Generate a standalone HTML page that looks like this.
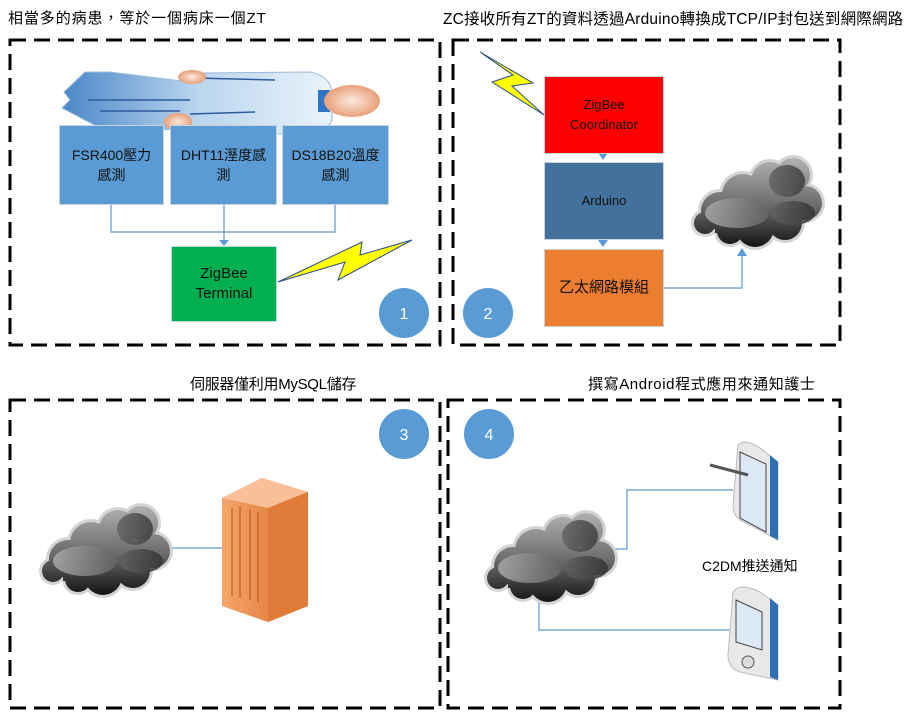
<!DOCTYPE html>
<html><head><meta charset="utf-8"><style>
body{margin:0;width:911px;height:716px;background:#fff;position:relative;overflow:hidden;font-family:"Liberation Sans","Noto Sans CJK TC",sans-serif}
.t{position:absolute;font-size:15px;color:#000;white-space:nowrap}
.b{position:absolute;display:flex;align-items:center;justify-content:center;text-align:center;font-size:14px;line-height:20px;color:#111;box-sizing:border-box;border:1px solid #c9d3de}
</style></head><body>
<svg width="911" height="716" style="position:absolute;left:0;top:0">
<defs>
<linearGradient id="cg" gradientUnits="userSpaceOnUse" x1="0" y1="-50" x2="0" y2="45"><stop offset="0" stop-color="#b8b8b8"/><stop offset="0.55" stop-color="#6c6c6c"/><stop offset="1" stop-color="#111"/></linearGradient>
<linearGradient id="cg2" gradientUnits="userSpaceOnUse" x1="-50" y1="0" x2="60" y2="0"><stop offset="0" stop-color="#aaa"/><stop offset="1" stop-color="#333"/></linearGradient>
<linearGradient id="bed" x1="0" x2="1"><stop offset="0" stop-color="#4a86c8"/><stop offset="0.5" stop-color="#b9d5ee"/><stop offset="1" stop-color="#eaf3fa"/></linearGradient>
<linearGradient id="srv" x1="0" x2="1"><stop offset="0" stop-color="#f5a66a"/><stop offset="1" stop-color="#d9692a"/></linearGradient>
<radialGradient id="skin"><stop offset="0" stop-color="#fbe9dc"/><stop offset="1" stop-color="#e7a07a"/></radialGradient>
<g id="cloud">
<g fill="#d4d4d4"><circle cx="-35" cy="8" r="22"/><circle cx="-12" cy="-8" r="24"/><circle cx="15" cy="-22" r="22"/><circle cx="38" cy="-28" r="20"/><circle cx="50" cy="0" r="20"/><circle cx="30" cy="20" r="20"/><circle cx="0" cy="25" r="22"/><circle cx="-50" cy="20" r="14"/><circle cx="-25" cy="28" r="16"/></g>
<g fill="url(#cg)"><circle cx="-35" cy="8" r="19"/><circle cx="-12" cy="-8" r="21"/><circle cx="15" cy="-22" r="19"/><circle cx="38" cy="-28" r="17"/><circle cx="50" cy="0" r="17"/><circle cx="30" cy="20" r="17"/><circle cx="0" cy="25" r="19"/><circle cx="-50" cy="20" r="11"/><circle cx="-25" cy="28" r="13"/><rect x="-40" y="-10" width="80" height="40"/></g>
<g fill="url(#cg2)" opacity=".85"><ellipse cx="-18" cy="10" rx="32" ry="15"/><ellipse cx="38" cy="10" rx="22" ry="12"/><ellipse cx="32" cy="-22" rx="18" ry="16"/></g>
</g>
</defs>
<g fill="none" stroke="#000" stroke-width="3" stroke-dasharray="16,8">
<rect x="10" y="40" width="430" height="305"/>
<rect x="453" y="40" width="387" height="305"/>
<rect x="10" y="400" width="430" height="308"/>
<rect x="448" y="400" width="392" height="308"/>
</g>
<!-- patient -->
<path d="M64 92 L85 72 L110 72 L190 82 L200 73 L310 72 Q330 76 332 92 L332 120 Q325 136 300 134 L200 134 L185 130 L100 128 L62 108 L70 100 Z" fill="url(#bed)" stroke="#9bbbd8"/>
<path d="M88 100 L190 100 M100 111 L180 111 M190 114 L255 112 M195 78 L275 80" stroke="#2d5b9c" stroke-width="1.5" fill="none"/>
<ellipse cx="192" cy="77" rx="14" ry="7" fill="url(#skin)"/>
<ellipse cx="178" cy="122" rx="14" ry="9" fill="url(#skin)"/>
<rect x="318" y="90" width="12" height="22" fill="#2e75c6"/>
<ellipse cx="352" cy="101" rx="28" ry="16" fill="url(#skin)"/>
<!-- connectors -->
<g stroke="#5b9bd5" stroke-width="1.2" fill="none">
<path d="M111 204 V232 H335 V204 M224 204 V242"/>
<path d="M603 154 V158 M603 240 V245"/>
<path d="M663 288 H742 V254"/>
<path d="M165 548 H222"/>
<path d="M612 549 H627 V490 H733 M539 596 V630 H730"/>
</g>
<g fill="#5b9bd5"><path d="M219 240 L229 240 L224 246Z"/><path d="M598 153 L608 153 L603 160Z"/><path d="M598 240 L608 240 L603 247Z"/><path d="M737 256 L747 256 L742 248Z"/></g>
<!-- lightning -->
<path d="M278 282 L345 262 L338 280 L412 240 L360 255 L362 242 Z" fill="#ffff00" stroke="#2a4d8a" stroke-width="1"/>
<path d="M480 52 L513 75 L492 82 L544 115 L512 86 L533 83 Z" fill="#ffff00" stroke="#2a4d8a" stroke-width="1"/>
<!-- circles -->
<g fill="#5b9bd5"><circle cx="404" cy="313" r="25"/><circle cx="488" cy="313" r="25"/><circle cx="404" cy="434" r="25"/><circle cx="489" cy="434" r="25"/></g>
<g fill="#fff" font-size="16" text-anchor="middle" font-family="Liberation Sans,sans-serif"><text x="404" y="319">1</text><text x="488" y="319">2</text><text x="404" y="440">3</text><text x="489" y="440">4</text></g>
<!-- clouds -->
<use href="#cloud" transform="translate(755,203)"/>
<use href="#cloud" transform="translate(103,551)"/>
<use href="#cloud" transform="translate(548,558)"/>
<!-- server -->
<path d="M222 498 L262 478 L308 492 L308 606 L268 622 L222 606 Z" fill="url(#srv)"/>
<path d="M222 498 L262 478 L308 492 L268 508 Z" fill="#f8c097"/>
<path d="M268 508 L308 492 L308 606 L268 622Z" fill="#e07b3a"/>
<g stroke="#b0521c" stroke-width="1"><path d="M232 508 V596 M240 506 V598 M250 510 V600 M258 512 V602"/></g>
<!-- phones -->
<path d="M738 445 Q745 438 760 448 L778 462 L778 540 L740 520 Q733 515 733 505 Z" fill="#e8e8e8" stroke="#bbb"/>
<path d="M770 455 L778 462 L778 540 L770 536Z" fill="#2e6fb5"/>
<path d="M740 452 L766 464 L766 532 L740 518Z" fill="#dde8f7" stroke="#444"/>
<path d="M710 465 L748 475" stroke="#555" stroke-width="3"/>
<path d="M733 592 Q740 582 760 592 L778 605 L778 680 L740 672 Q728 668 728 655 Z" fill="#e8e8e8" stroke="#bbb"/>
<path d="M770 598 L778 605 L778 680 L770 677Z" fill="#2e6fb5"/>
<path d="M736 600 L762 612 L762 650 L736 642Z" fill="#dde8f7" stroke="#444"/>
<circle cx="748" cy="662" r="6" fill="#ddd" stroke="#555"/>
</svg>
<div class="t" style="left:8px;top:7px;letter-spacing:0.9px">相當多的病患，等於一個病床一個ZT</div>
<div class="t" style="left:443px;top:7px;font-size:15.5px;letter-spacing:0.2px">ZC接收所有ZT的資料透過Arduino轉換成TCP/IP封包送到網際網路</div>
<div class="t" style="left:190px;top:373px;letter-spacing:-0.3px">伺服器僅利用MySQL儲存</div>
<div class="t" style="left:588px;top:373px;letter-spacing:0.6px">撰寫Android程式應用來通知護士</div>
<div class="b" style="left:59px;top:125px;width:105px;height:80px;background:#5b9bd5">FSR400壓力<br>感測</div>
<div class="b" style="left:170px;top:125px;width:107px;height:80px;background:#5b9bd5">DHT11溼度感<br>測</div>
<div class="b" style="left:282px;top:125px;width:107px;height:80px;background:#5b9bd5">DS18B20溫度<br>感測</div>
<div class="b" style="left:171px;top:246px;width:106px;height:76px;background:#00b050;font-size:15px">ZigBee<br>Terminal</div>
<div class="b" style="left:544px;top:76px;width:120px;height:78px;background:#ff0000;font-size:13px">ZigBee<br>Coordinator</div>
<div class="b" style="left:544px;top:162px;width:120px;height:78px;background:#41719c;font-size:13px">Arduino</div>
<div class="b" style="left:544px;top:249px;width:120px;height:78px;background:#ed7d31;font-size:15px">乙太網路模組</div>
<div class="t" style="left:702px;top:556px;font-size:14px">C2DM推送通知</div>
</body></html>
